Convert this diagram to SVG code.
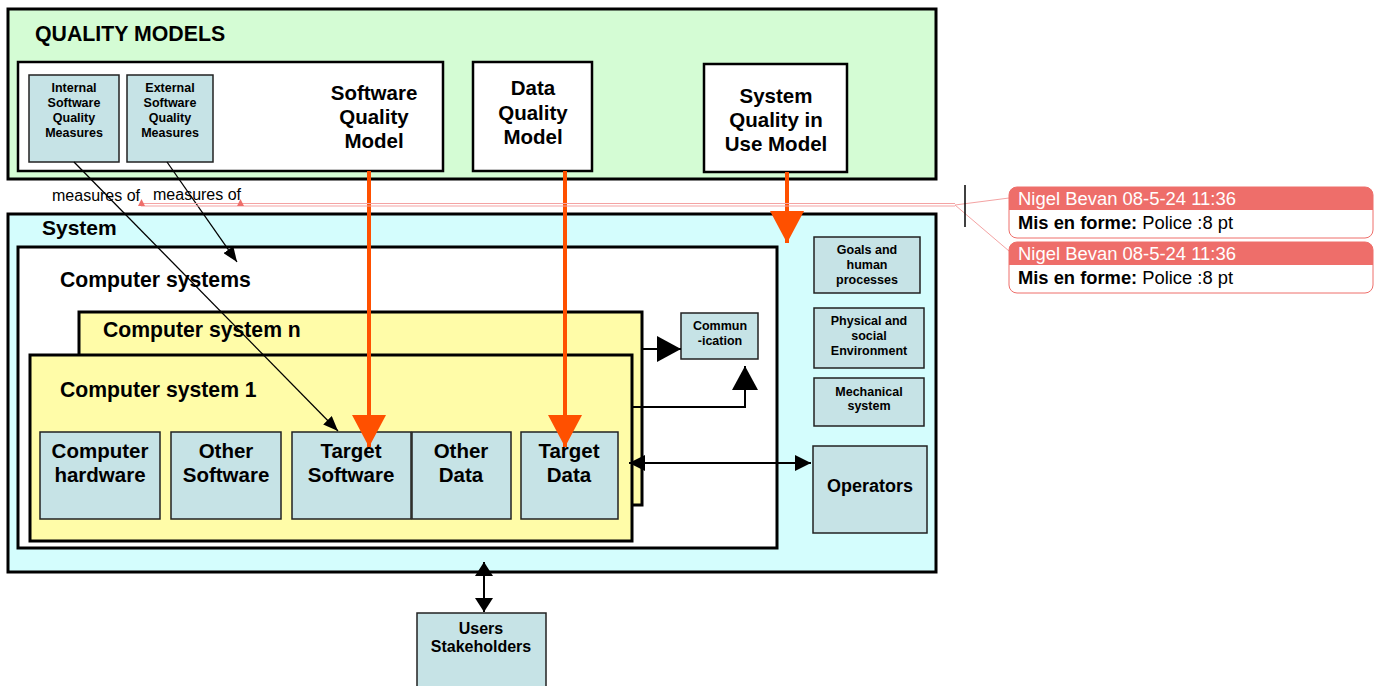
<svg xmlns="http://www.w3.org/2000/svg" width="1379" height="686" viewBox="0 0 1379 686">
<style>
.t{font-family:"Liberation Sans",Arial,Helvetica,sans-serif;font-weight:bold;fill:#000;text-anchor:middle}
.tl{font-family:"Liberation Sans",Arial,Helvetica,sans-serif;font-weight:bold;fill:#000}
.r{font-family:"Liberation Sans",Arial,Helvetica,sans-serif;fill:#000}
.box{fill:#c6e3e6;stroke:#222;stroke-width:1.5}
.wbox{fill:#fff;stroke:#000;stroke-width:2.5}
.big{stroke:#000;stroke-width:3}
.orange{stroke:#ff5000;stroke-width:4;fill:none}
.thin{stroke:#000;stroke-width:1.3;fill:none}
.med{stroke:#000;stroke-width:2;fill:none}
.pink{stroke:#f4a3a3;stroke-width:1;fill:none}
.chead{fill:#ee6e6a}
.cbody{fill:#fff;stroke:#ee6e6a;stroke-width:1}
</style>
<defs>
<marker id="mOrange" markerUnits="userSpaceOnUse" markerWidth="34" markerHeight="34" refX="32" refY="17" orient="auto"><path d="M0,0 L32,17 L0,34 Z" fill="#ff5000"/></marker>
<marker id="mThin" markerUnits="userSpaceOnUse" markerWidth="16" markerHeight="12" refX="15" refY="6" orient="auto"><path d="M0,0 L15,6 L0,12 Z" fill="#000"/></marker>
<marker id="mBig" markerUnits="userSpaceOnUse" markerWidth="25" markerHeight="26" refX="24" refY="13" orient="auto"><path d="M0,0 L24,13 L0,26 Z" fill="#000"/></marker>
<marker id="mMed" markerUnits="userSpaceOnUse" markerWidth="17" markerHeight="17" refX="16" refY="8" orient="auto-start-reverse"><path d="M0,0 L16,8 L0,16 Z" fill="#000"/></marker>
<marker id="mUsr" markerUnits="userSpaceOnUse" markerWidth="15" markerHeight="18" refX="14" refY="9" orient="auto-start-reverse"><path d="M0,0 L14,9 L0,18 Z" fill="#000"/></marker>
</defs>

<g id="quality-models">
<rect x="8" y="9" width="928" height="170" fill="#d4fcd4" class="big"/>
<text class="tl" x="35" y="41" font-size="21.3">QUALITY MODELS</text>
</g>
<g id="software-quality-model">
<rect x="18" y="62" width="425" height="109" class="wbox"/>
<text class="t" x="374" y="100" font-size="20.5">Software</text>
<text class="t" x="374" y="124" font-size="20.5">Quality</text>
<text class="t" x="374" y="148" font-size="20.5">Model</text>
</g>
<g id="internal-measures">
<rect x="29" y="75" width="90" height="87" class="box"/>
<text class="t" x="74" y="92" font-size="12.5">Internal</text>
<text class="t" x="74" y="107" font-size="12.5">Software</text>
<text class="t" x="74" y="122" font-size="12.5">Quality</text>
<text class="t" x="74" y="137" font-size="12.5">Measures</text>
</g>
<g id="external-measures">
<rect x="127" y="75" width="86" height="87" class="box"/>
<text class="t" x="170" y="92" font-size="12.5">External</text>
<text class="t" x="170" y="107" font-size="12.5">Software</text>
<text class="t" x="170" y="122" font-size="12.5">Quality</text>
<text class="t" x="170" y="137" font-size="12.5">Measures</text>
</g>
<g id="data-quality-model">
<rect x="473" y="62" width="119" height="109" class="wbox"/>
<text class="t" x="533" y="95" font-size="20.5">Data</text>
<text class="t" x="533" y="120" font-size="20.5">Quality</text>
<text class="t" x="533" y="144" font-size="20.5">Model</text>
</g>
<g id="system-quality-in-use-model">
<rect x="704" y="64" width="143" height="108" class="wbox"/>
<text class="t" x="776" y="103" font-size="20.5">System</text>
<text class="t" x="776" y="127" font-size="20.5">Quality in</text>
<text class="t" x="776" y="151" font-size="20.5">Use Model</text>
</g>

<g id="system">
<rect x="8" y="214" width="928" height="358" fill="#d4fdfd" class="big"/>
<text class="tl" x="42" y="235" font-size="21">System</text>
</g>
<g id="computer-systems">
<rect x="18" y="247" width="759" height="301" fill="#fff" class="big"/>
<text class="tl" x="60" y="287" font-size="21.2">Computer systems</text>
</g>
<g id="computer-system-n">
<rect x="79" y="312" width="563" height="193" fill="#fffca8" class="big"/>
<text class="tl" x="103" y="337" font-size="21.2">Computer system n</text>
</g>
<g id="computer-system-1">
<rect x="30" y="355" width="602" height="186" fill="#fffca8" class="big"/>
<text class="tl" x="60" y="397" font-size="21.2">Computer system 1</text>
</g>
<g id="computer-hardware">
<rect x="40" y="432" width="120" height="87" class="box"/>
<text class="t" x="100" y="458" font-size="20.5">Computer</text>
<text class="t" x="100" y="482" font-size="20.5">hardware</text>
</g>
<g id="other-software">
<rect x="171" y="432" width="110" height="87" class="box"/>
<text class="t" x="226" y="458" font-size="20.5">Other</text>
<text class="t" x="226" y="482" font-size="20.5">Software</text>
</g>
<g id="target-software">
<rect x="292" y="432" width="119" height="87" class="box"/>
<text class="t" x="351" y="458" font-size="20.5">Target</text>
<text class="t" x="351" y="482" font-size="20.5">Software</text>
</g>
<g id="other-data">
<rect x="412" y="432" width="99" height="87" class="box"/>
<text class="t" x="461" y="458" font-size="20.5">Other</text>
<text class="t" x="461" y="482" font-size="20.5">Data</text>
</g>
<g id="target-data">
<rect x="521" y="432" width="97" height="87" class="box"/>
<text class="t" x="569" y="458" font-size="20.5">Target</text>
<text class="t" x="569" y="482" font-size="20.5">Data</text>
</g>
<g id="communication">
<rect x="681" y="313" width="77" height="46" class="box"/>
<text class="t" x="720" y="330" font-size="12.5">Commun</text>
<text class="t" x="720" y="345" font-size="12.5">-ication</text>
</g>
<g id="goals">
<rect x="814" y="237" width="106" height="56" class="box"/>
<text class="t" x="867" y="254" font-size="12.5">Goals and</text>
<text class="t" x="867" y="269" font-size="12.5">human</text>
<text class="t" x="867" y="284" font-size="12.5">processes</text>
</g>
<g id="physical-social">
<rect x="814" y="308" width="110" height="60" class="box"/>
<text class="t" x="869" y="325" font-size="12.5">Physical and</text>
<text class="t" x="869" y="340" font-size="12.5">social</text>
<text class="t" x="869" y="355" font-size="12.5">Environment</text>
</g>
<g id="mechanical">
<rect x="814" y="378" width="110" height="48" class="box"/>
<text class="t" x="869" y="396" font-size="12.5">Mechanical</text>
<text class="t" x="869" y="410" font-size="12.5">system</text>
</g>
<g id="operators">
<rect x="813" y="446" width="114" height="87" class="box"/>
<text class="t" x="870" y="492" font-size="18">Operators</text>
</g>
<g id="users-stakeholders">
<rect x="417" y="613" width="129" height="80" class="box"/>
<text class="t" x="481" y="634" font-size="16">Users</text>
<text class="t" x="481" y="652" font-size="16">Stakeholders</text>
</g>

<g id="labels">
<text class="r" x="52" y="201" font-size="16">measures of</text>
<text class="r" x="153" y="200" font-size="16" fill="#222">measures of</text>
</g>

<g id="connectors">
<line class="orange" x1="369" y1="171" x2="369" y2="447" marker-end="url(#mOrange)"/>
<line class="orange" x1="565" y1="171" x2="565" y2="447" marker-end="url(#mOrange)"/>
<line class="orange" x1="787" y1="172" x2="787" y2="243" marker-end="url(#mOrange)"/>
<line class="thin" x1="74" y1="162" x2="338" y2="431" marker-end="url(#mThin)"/>
<line class="thin" x1="167" y1="162" x2="237" y2="262" marker-end="url(#mThin)"/>
<line class="med" x1="642" y1="349" x2="681" y2="349" marker-end="url(#mBig)"/>
<polyline class="med" points="632,407 745,407 745,366" marker-end="url(#mBig)"/>
<line class="med" x1="629" y1="463" x2="811" y2="463" marker-start="url(#mMed)" marker-end="url(#mMed)"/>
<line class="med" x1="484" y1="562" x2="484" y2="612" marker-start="url(#mUsr)" marker-end="url(#mUsr)"/>
</g>

<g id="comment-marks">
<line class="pink" x1="141" y1="203.5" x2="955" y2="203.5"/>
<line class="pink" x1="141" y1="206" x2="955" y2="206"/>
<line class="pink" x1="955" y1="205" x2="1009" y2="198"/>
<line class="pink" x1="955" y1="205" x2="1009" y2="251"/>
<path d="M138,206 L141.5,199 L145,206 Z" fill="#ee6e6a"/>
<path d="M237,206 L240.5,199 L244,206 Z" fill="#ee6e6a"/>
<line x1="965" y1="185" x2="965" y2="227" stroke="#000" stroke-width="1.5"/>
</g>
<g id="comment-1">
<rect x="1009" y="187" width="364" height="51" rx="8" class="cbody"/>
<path d="M1009,210 V195 A8,8 0 0 1 1017,187 H1365 A8,8 0 0 1 1373,195 V210 Z" class="chead"/>
<text class="r" x="1018" y="205" font-size="17.5" style="fill:#fff" textLength="218" lengthAdjust="spacingAndGlyphs">Nigel Bevan 08-5-24 11:36</text>
<text class="r" x="1018" y="229" font-size="17.5" textLength="215" lengthAdjust="spacingAndGlyphs"><tspan font-weight="bold">Mis en forme:</tspan> Police :8 pt</text>
</g>
<g id="comment-2">
<rect x="1009" y="242" width="364" height="51" rx="8" class="cbody"/>
<path d="M1009,265 V250 A8,8 0 0 1 1017,242 H1365 A8,8 0 0 1 1373,250 V265 Z" class="chead"/>
<text class="r" x="1018" y="260" font-size="17.5" style="fill:#fff" textLength="218" lengthAdjust="spacingAndGlyphs">Nigel Bevan 08-5-24 11:36</text>
<text class="r" x="1018" y="284" font-size="17.5" textLength="215" lengthAdjust="spacingAndGlyphs"><tspan font-weight="bold">Mis en forme:</tspan> Police :8 pt</text>
</g>
</svg>
